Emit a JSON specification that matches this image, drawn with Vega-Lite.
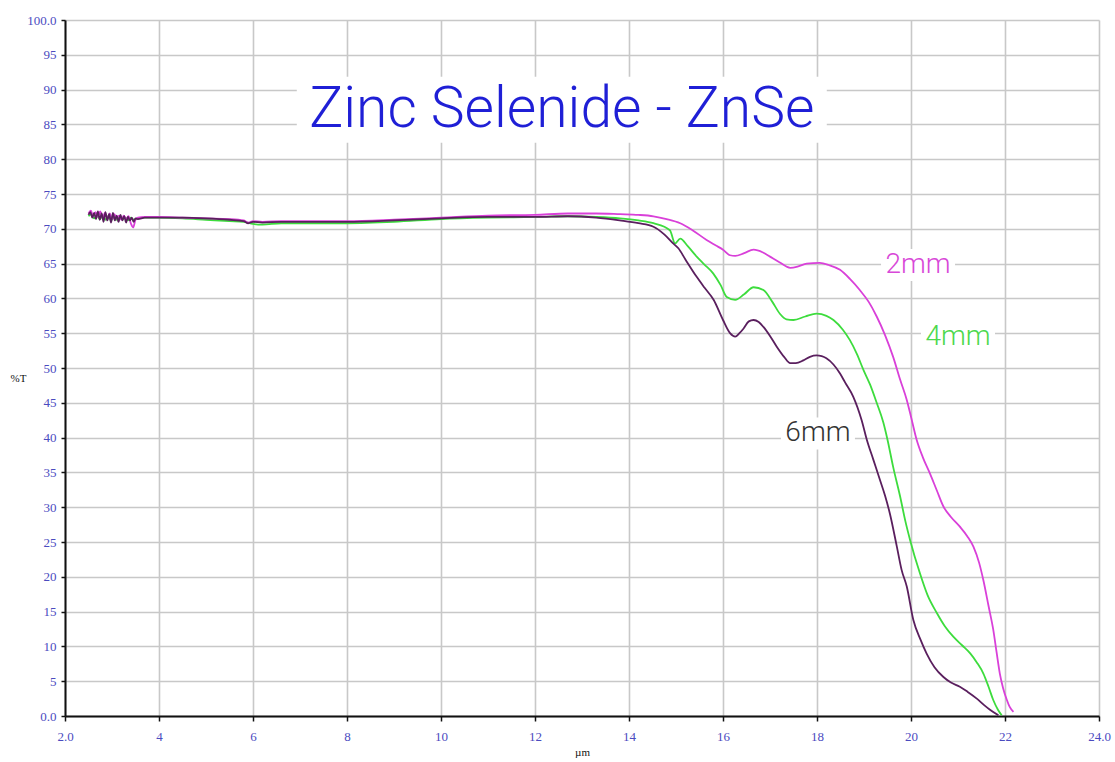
{
  "$schema": "https://vega.github.io/schema/vega-lite/v6.json",
  "width": 1034,
  "height": 696,
  "autosize": {"type": "none"},
  "padding": {"left": 65, "top": 20, "right": 16, "bottom": 46},
  "background": "white",
  "config": {
    "view": {"stroke": null},
    "axis": {
      "gridColor": "#c8c8c8",
      "gridWidth": 1.6,
      "domainColor": "#111111",
      "domainWidth": 2,
      "tickColor": "#111111",
      "tickWidth": 1.5,
      "labelFont": "Liberation Serif",
      "labelFontSize": 13,
      "labelColor": "#4b4bbf",
      "titleFont": "Liberation Serif",
      "titleFontSize": 11,
      "titleFontWeight": "normal",
      "titleColor": "#111111"
    }
  },
  "datasets": {
    "curves": [
      {"s":"4mm","x":2.50,"y":71.8},{"s":"4mm","x":2.56,"y":72.1},{"s":"4mm","x":2.62,"y":71.5},{"s":"4mm","x":2.68,"y":72.0},{"s":"4mm","x":2.74,"y":71.4},{"s":"4mm","x":2.80,"y":71.9},{"s":"4mm","x":2.86,"y":71.3},{"s":"4mm","x":2.92,"y":71.8},{"s":"4mm","x":2.98,"y":71.2},{"s":"4mm","x":3.04,"y":71.8},{"s":"4mm","x":3.10,"y":71.3},{"s":"4mm","x":3.16,"y":71.7},{"s":"4mm","x":3.22,"y":71.3},{"s":"4mm","x":3.28,"y":71.6},{"s":"4mm","x":3.34,"y":71.2},{"s":"4mm","x":3.40,"y":71.6},{"s":"4mm","x":3.46,"y":71.3},{"s":"4mm","x":3.55,"y":71.5},{"s":"4mm","x":3.7,"y":71.6},{"s":"4mm","x":4.0,"y":71.6},{"s":"4mm","x":4.5,"y":71.5},{"s":"4mm","x":5.0,"y":71.3},{"s":"4mm","x":5.5,"y":71.1},{"s":"4mm","x":5.8,"y":71.0},{"s":"4mm","x":6.0,"y":70.7},{"s":"4mm","x":6.2,"y":70.6},{"s":"4mm","x":6.6,"y":70.8},{"s":"4mm","x":7.0,"y":70.8},{"s":"4mm","x":8.0,"y":70.8},{"s":"4mm","x":9.0,"y":71.0},{"s":"4mm","x":10.0,"y":71.4},{"s":"4mm","x":11.0,"y":71.6},{"s":"4mm","x":12.0,"y":71.7},{"s":"4mm","x":12.7,"y":71.8},{"s":"4mm","x":13.3,"y":71.7},{"s":"4mm","x":13.81,"y":71.5},{"s":"4mm","x":14.2,"y":71.2},{"s":"4mm","x":14.52,"y":70.8},{"s":"4mm","x":14.87,"y":69.8},{"s":"4mm","x":14.98,"y":67.9},{"s":"4mm","x":15.09,"y":68.6},{"s":"4mm","x":15.25,"y":67.5},{"s":"4mm","x":15.44,"y":66.0},{"s":"4mm","x":15.6,"y":64.9},{"s":"4mm","x":15.79,"y":63.6},{"s":"4mm","x":15.95,"y":61.9},{"s":"4mm","x":16.08,"y":60.2},{"s":"4mm","x":16.26,"y":59.8},{"s":"4mm","x":16.45,"y":60.6},{"s":"4mm","x":16.65,"y":61.6},{"s":"4mm","x":16.86,"y":61.2},{"s":"4mm","x":17.05,"y":59.5},{"s":"4mm","x":17.21,"y":57.8},{"s":"4mm","x":17.35,"y":57.0},{"s":"4mm","x":17.5,"y":56.9},{"s":"4mm","x":17.75,"y":57.4},{"s":"4mm","x":17.99,"y":57.8},{"s":"4mm","x":18.2,"y":57.5},{"s":"4mm","x":18.35,"y":56.9},{"s":"4mm","x":18.55,"y":55.5},{"s":"4mm","x":18.7,"y":54.0},{"s":"4mm","x":18.85,"y":52.0},{"s":"4mm","x":18.99,"y":49.7},{"s":"4mm","x":19.13,"y":47.6},{"s":"4mm","x":19.27,"y":45.0},{"s":"4mm","x":19.41,"y":42.2},{"s":"4mm","x":19.5,"y":39.7},{"s":"4mm","x":19.62,"y":35.8},{"s":"4mm","x":19.77,"y":31.5},{"s":"4mm","x":19.88,"y":28.0},{"s":"4mm","x":19.98,"y":25.3},{"s":"4mm","x":20.19,"y":20.5},{"s":"4mm","x":20.35,"y":17.4},{"s":"4mm","x":20.55,"y":14.8},{"s":"4mm","x":20.72,"y":12.9},{"s":"4mm","x":20.9,"y":11.4},{"s":"4mm","x":21.08,"y":10.2},{"s":"4mm","x":21.26,"y":9.0},{"s":"4mm","x":21.4,"y":7.7},{"s":"4mm","x":21.54,"y":6.1},{"s":"4mm","x":21.65,"y":4.2},{"s":"4mm","x":21.75,"y":2.3},{"s":"4mm","x":21.85,"y":0.9},{"s":"4mm","x":21.93,"y":0.1},

      {"s":"2mm","x":2.50,"y":72.2},{"s":"2mm","x":2.55,"y":72.6},{"s":"2mm","x":2.60,"y":71.8},{"s":"2mm","x":2.65,"y":72.4},{"s":"2mm","x":2.70,"y":71.7},{"s":"2mm","x":2.75,"y":72.5},{"s":"2mm","x":2.80,"y":71.6},{"s":"2mm","x":2.85,"y":72.3},{"s":"2mm","x":2.90,"y":71.5},{"s":"2mm","x":2.95,"y":72.2},{"s":"2mm","x":3.00,"y":71.4},{"s":"2mm","x":3.05,"y":72.1},{"s":"2mm","x":3.10,"y":71.5},{"s":"2mm","x":3.15,"y":71.9},{"s":"2mm","x":3.20,"y":71.3},{"s":"2mm","x":3.25,"y":71.9},{"s":"2mm","x":3.30,"y":71.4},{"s":"2mm","x":3.35,"y":71.8},{"s":"2mm","x":3.40,"y":70.8},{"s":"2mm","x":3.45,"y":70.2},{"s":"2mm","x":3.50,"y":71.3},{"s":"2mm","x":3.55,"y":71.6},{"s":"2mm","x":3.7,"y":71.7},{"s":"2mm","x":4.0,"y":71.7},{"s":"2mm","x":4.5,"y":71.6},{"s":"2mm","x":5.0,"y":71.5},{"s":"2mm","x":5.5,"y":71.4},{"s":"2mm","x":5.8,"y":71.2},{"s":"2mm","x":5.9,"y":70.9},{"s":"2mm","x":6.0,"y":71.1},{"s":"2mm","x":6.2,"y":71.0},{"s":"2mm","x":6.6,"y":71.1},{"s":"2mm","x":7.0,"y":71.1},{"s":"2mm","x":8.0,"y":71.1},{"s":"2mm","x":9.0,"y":71.3},{"s":"2mm","x":10.0,"y":71.6},{"s":"2mm","x":11.0,"y":71.9},{"s":"2mm","x":12.0,"y":72.0},{"s":"2mm","x":12.7,"y":72.2},{"s":"2mm","x":13.3,"y":72.2},{"s":"2mm","x":13.81,"y":72.1},{"s":"2mm","x":14.2,"y":72.0},{"s":"2mm","x":14.52,"y":71.8},{"s":"2mm","x":14.8,"y":71.4},{"s":"2mm","x":15.09,"y":70.8},{"s":"2mm","x":15.35,"y":69.8},{"s":"2mm","x":15.65,"y":68.4},{"s":"2mm","x":15.85,"y":67.6},{"s":"2mm","x":16.0,"y":67.0},{"s":"2mm","x":16.15,"y":66.2},{"s":"2mm","x":16.26,"y":66.1},{"s":"2mm","x":16.45,"y":66.5},{"s":"2mm","x":16.65,"y":67.0},{"s":"2mm","x":16.85,"y":66.6},{"s":"2mm","x":17.0,"y":66.0},{"s":"2mm","x":17.2,"y":65.2},{"s":"2mm","x":17.43,"y":64.4},{"s":"2mm","x":17.6,"y":64.6},{"s":"2mm","x":17.78,"y":65.0},{"s":"2mm","x":18.06,"y":65.1},{"s":"2mm","x":18.25,"y":64.8},{"s":"2mm","x":18.49,"y":64.1},{"s":"2mm","x":18.7,"y":62.8},{"s":"2mm","x":18.91,"y":61.2},{"s":"2mm","x":19.1,"y":59.5},{"s":"2mm","x":19.27,"y":57.4},{"s":"2mm","x":19.45,"y":54.7},{"s":"2mm","x":19.62,"y":51.6},{"s":"2mm","x":19.77,"y":48.3},{"s":"2mm","x":19.91,"y":45.4},{"s":"2mm","x":20.0,"y":43.0},{"s":"2mm","x":20.12,"y":39.7},{"s":"2mm","x":20.25,"y":37.2},{"s":"2mm","x":20.4,"y":34.9},{"s":"2mm","x":20.55,"y":32.4},{"s":"2mm","x":20.69,"y":30.1},{"s":"2mm","x":20.85,"y":28.6},{"s":"2mm","x":21.04,"y":27.2},{"s":"2mm","x":21.2,"y":25.8},{"s":"2mm","x":21.33,"y":24.3},{"s":"2mm","x":21.45,"y":22.0},{"s":"2mm","x":21.54,"y":19.5},{"s":"2mm","x":21.65,"y":15.8},{"s":"2mm","x":21.75,"y":12.4},{"s":"2mm","x":21.82,"y":9.2},{"s":"2mm","x":21.89,"y":6.1},{"s":"2mm","x":21.96,"y":4.0},{"s":"2mm","x":22.04,"y":2.3},{"s":"2mm","x":22.1,"y":1.3},{"s":"2mm","x":22.18,"y":0.6},

      {"s":"6mm","x":2.50,"y":72.0},{"s":"6mm","x":2.54,"y":72.4},{"s":"6mm","x":2.58,"y":71.6},{"s":"6mm","x":2.62,"y":72.3},{"s":"6mm","x":2.66,"y":71.4},{"s":"6mm","x":2.70,"y":72.5},{"s":"6mm","x":2.74,"y":71.3},{"s":"6mm","x":2.78,"y":72.2},{"s":"6mm","x":2.82,"y":71.0},{"s":"6mm","x":2.86,"y":72.4},{"s":"6mm","x":2.90,"y":71.2},{"s":"6mm","x":2.94,"y":72.1},{"s":"6mm","x":2.98,"y":70.9},{"s":"6mm","x":3.02,"y":72.3},{"s":"6mm","x":3.06,"y":71.2},{"s":"6mm","x":3.10,"y":71.9},{"s":"6mm","x":3.14,"y":71.0},{"s":"6mm","x":3.18,"y":72.0},{"s":"6mm","x":3.22,"y":71.2},{"s":"6mm","x":3.26,"y":71.8},{"s":"6mm","x":3.30,"y":70.9},{"s":"6mm","x":3.34,"y":71.7},{"s":"6mm","x":3.38,"y":71.2},{"s":"6mm","x":3.42,"y":71.6},{"s":"6mm","x":3.46,"y":71.0},{"s":"6mm","x":3.50,"y":71.5},{"s":"6mm","x":3.55,"y":71.4},{"s":"6mm","x":3.7,"y":71.6},{"s":"6mm","x":4.0,"y":71.6},{"s":"6mm","x":4.5,"y":71.6},{"s":"6mm","x":5.0,"y":71.5},{"s":"6mm","x":5.5,"y":71.3},{"s":"6mm","x":5.8,"y":71.1},{"s":"6mm","x":5.9,"y":70.8},{"s":"6mm","x":6.0,"y":71.0},{"s":"6mm","x":6.2,"y":70.9},{"s":"6mm","x":6.6,"y":71.0},{"s":"6mm","x":7.0,"y":71.0},{"s":"6mm","x":8.0,"y":71.0},{"s":"6mm","x":9.0,"y":71.2},{"s":"6mm","x":10.0,"y":71.5},{"s":"6mm","x":11.0,"y":71.7},{"s":"6mm","x":12.0,"y":71.7},{"s":"6mm","x":12.7,"y":71.8},{"s":"6mm","x":13.3,"y":71.6},{"s":"6mm","x":13.8,"y":71.2},{"s":"6mm","x":14.2,"y":70.8},{"s":"6mm","x":14.52,"y":70.3},{"s":"6mm","x":14.75,"y":69.2},{"s":"6mm","x":14.94,"y":67.9},{"s":"6mm","x":15.05,"y":67.2},{"s":"6mm","x":15.2,"y":65.6},{"s":"6mm","x":15.44,"y":63.1},{"s":"6mm","x":15.6,"y":61.6},{"s":"6mm","x":15.8,"y":59.8},{"s":"6mm","x":16.0,"y":56.9},{"s":"6mm","x":16.15,"y":55.0},{"s":"6mm","x":16.26,"y":54.5},{"s":"6mm","x":16.35,"y":55.0},{"s":"6mm","x":16.43,"y":55.6},{"s":"6mm","x":16.55,"y":56.7},{"s":"6mm","x":16.65,"y":56.9},{"s":"6mm","x":16.76,"y":56.6},{"s":"6mm","x":16.86,"y":55.9},{"s":"6mm","x":17.0,"y":54.6},{"s":"6mm","x":17.14,"y":53.1},{"s":"6mm","x":17.3,"y":51.6},{"s":"6mm","x":17.43,"y":50.7},{"s":"6mm","x":17.55,"y":50.7},{"s":"6mm","x":17.71,"y":51.1},{"s":"6mm","x":17.85,"y":51.6},{"s":"6mm","x":17.99,"y":51.8},{"s":"6mm","x":18.1,"y":51.7},{"s":"6mm","x":18.2,"y":51.4},{"s":"6mm","x":18.35,"y":50.5},{"s":"6mm","x":18.49,"y":49.2},{"s":"6mm","x":18.6,"y":47.9},{"s":"6mm","x":18.77,"y":45.9},{"s":"6mm","x":18.95,"y":42.5},{"s":"6mm","x":19.06,"y":39.7},{"s":"6mm","x":19.2,"y":36.8},{"s":"6mm","x":19.34,"y":33.9},{"s":"6mm","x":19.45,"y":31.6},{"s":"6mm","x":19.55,"y":29.1},{"s":"6mm","x":19.7,"y":24.3},{"s":"6mm","x":19.8,"y":21.0},{"s":"6mm","x":19.91,"y":18.6},{"s":"6mm","x":20.05,"y":13.8},{"s":"6mm","x":20.2,"y":11.0},{"s":"6mm","x":20.33,"y":9.0},{"s":"6mm","x":20.5,"y":7.0},{"s":"6mm","x":20.69,"y":5.6},{"s":"6mm","x":20.85,"y":4.8},{"s":"6mm","x":21.04,"y":4.2},{"s":"6mm","x":21.2,"y":3.5},{"s":"6mm","x":21.4,"y":2.5},{"s":"6mm","x":21.55,"y":1.6},{"s":"6mm","x":21.68,"y":0.9},{"s":"6mm","x":21.86,"y":0.1}
    ],
    "titles": [
      {"text": "Zinc Selenide - ZnSe", "x": 12.57, "y": 87.1}
    ],
    "labels": [
      {"s": "2mm", "x": 20.15, "y": 64.8},
      {"s": "4mm", "x": 21.0, "y": 54.5},
      {"s": "6mm", "x": 18.02, "y": 40.6}
    ]
  },
  "encoding": {
    "x": {
      "field": "x", "type": "quantitative",
      "scale": {"domain": [2, 24], "nice": false, "zero": false},
      "axis": {
        "title": "µm",
        "values": [2,4,6,8,10,12,14,16,18,20,22,24],
        "labelExpr": "datum.value == 2 || datum.value == 24 ? format(datum.value, '.1f') : datum.label",
        "tickSize": 5,
        "labelPadding": 9,
        "titlePadding": 3,
        "labelFlush": false
      }
    },
    "y": {
      "field": "y", "type": "quantitative",
      "scale": {"domain": [0, 100], "nice": false},
      "axis": {
        "title": "%T",
        "values": [0,5,10,15,20,25,30,35,40,45,50,55,60,65,70,75,80,85,90,95,100],
        "labelExpr": "datum.value == 0 || datum.value == 100 ? format(datum.value, '.1f') : datum.label",
        "tickSize": 4,
        "labelPadding": 5,
        "titleAngle": 0,
        "titleAlign": "center",
        "titleBaseline": "middle",
        "titleX": -47,
        "titleY": 358,
        "labelFlush": false
      }
    }
  },
  "layer": [
    {
      "data": {"name": "titles"},
      "mark": {"type": "rect", "width": 530, "height": 66, "fill": "white"}
    },
    {
      "data": {"name": "labels"},
      "mark": {"type": "rect", "width": 74, "height": 32, "fill": "white"}
    },
    {
      "data": {"name": "curves"},
      "mark": {"type": "line", "strokeWidth": 1.8, "interpolate": "monotone"},
      "encoding": {
        "color": {
          "field": "s", "type": "nominal",
          "scale": {"domain": ["4mm", "2mm", "6mm"], "range": ["#3ddc3d", "#d940d9", "#5a1f5e"]},
          "legend": null
        },
        "detail": {"field": "s"}
      }
    },
    {
      "data": {"name": "titles"},
      "mark": {"type": "text", "font": "Roboto", "fontWeight": 300, "fontSize": 57, "color": "#1f1fd6", "baseline": "middle", "align": "center"},
      "encoding": {"text": {"field": "text"}}
    },
    {
      "data": {"name": "labels"},
      "mark": {"type": "text", "font": "Roboto", "fontWeight": 300, "fontSize": 28, "baseline": "middle", "align": "center"},
      "encoding": {
        "text": {"field": "s"},
        "color": {
          "field": "s", "type": "nominal",
          "scale": {"domain": ["2mm", "4mm", "6mm"], "range": ["#d848d8", "#4cd84c", "#333333"]},
          "legend": null
        }
      }
    }
  ],
  "resolve": {"scale": {"color": "independent"}}
}
